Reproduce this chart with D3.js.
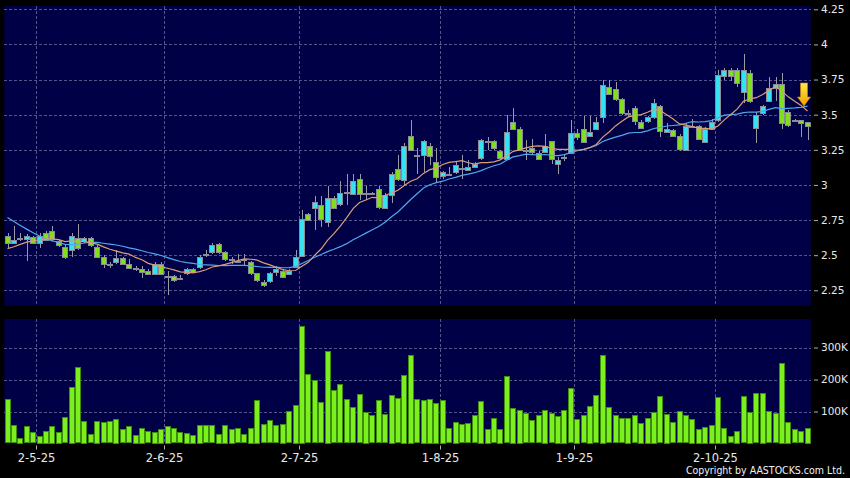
<!DOCTYPE html>
<html lang="en">
<head>
<meta charset="UTF-8">
<title>Price chart</title>
<style>
body { margin: 0; background: #000; }
svg { display: block; }
.axis text { font: 10.5px "DejaVu Sans", sans-serif; fill: #e8e8e8; }
.axis line { stroke: #b0b0b0; }
.axis path { display: none; }
.xaxis text { font-size: 11.5px; }
.grid line { stroke: #55558c; stroke-dasharray: 3,2; stroke-width: 1; shape-rendering: crispEdges; }
.wick { stroke: #9a9aa6; stroke-width: 1; shape-rendering: crispEdges; }
.body { stroke: #8c8c96; stroke-width: 1; shape-rendering: crispEdges; }
.vol { fill: #7cf01c; stroke: #3c8c10; stroke-width: 1; shape-rendering: crispEdges; }
.copy { font: 10.5px "DejaVu Sans Condensed", "DejaVu Sans", sans-serif; fill: #f0f0f0; }
</style>
</head>
<body>
<script src="https://d3js.org/d3.v7.min.js"></script>
<script>
// daily candles (HK$)
var openP  = [2.64,2.59,2.62,2.62,2.63,2.59,2.66,2.67,2.60,2.56, 2.54,2.62,2.60,2.62,2.56,2.49,2.44,2.45,2.48,2.44,
              2.41,2.40,2.39,2.37,2.44,2.35,2.35,2.34,2.37,2.40, 2.42,2.50,2.52,2.58,2.52,2.47,2.46,2.47,2.45,2.37,
              2.31,2.31,2.38,2.39,2.37,2.42,2.50,2.79,2.84,2.86, 2.74,2.91,2.86,2.95,2.94,3.04,2.93,2.94,2.97,2.84,
              2.93,3.11,3.04,3.35,3.21,3.21,3.28,3.16,3.06,3.08, 3.09,3.12,3.11,3.13,3.19,3.31,3.31,3.24,3.19,3.45,
              3.40,3.25,3.26,3.23,3.24,3.31,3.15,3.19,3.23,3.37, 3.40,3.35,3.40,3.48,3.70,3.68,3.61,3.51,3.55,3.45,
              3.45,3.48,3.56,3.38,3.39,3.35,3.25,3.42,3.42,3.31, 3.40,3.46,3.78,3.82,3.82,3.66,3.80,3.41,3.51,3.60,
              3.69,3.72,3.52,3.46,3.46,3.45];
var highP  = [2.66,2.71,2.66,2.65,2.64,2.66,2.67,2.71,2.61,2.57, 2.66,2.72,2.63,2.63,2.57,2.50,2.45,2.54,2.49,2.47,
              2.42,2.42,2.40,2.45,2.45,2.39,2.36,2.36,2.41,2.41, 2.50,2.54,2.59,2.59,2.53,2.49,2.51,2.51,2.46,2.37,
              2.32,2.38,2.42,2.40,2.40,2.54,2.82,2.80,2.92,2.92, 2.99,2.92,3.03,3.08,3.08,3.08,2.99,2.95,2.99,2.94,
              3.09,3.21,3.30,3.46,3.26,3.32,3.30,3.26,3.10,3.13, 3.16,3.21,3.18,3.16,3.33,3.34,3.32,3.25,3.50,3.55,
              3.41,3.32,3.33,3.24,3.36,3.31,3.20,3.22,3.46,3.40, 3.49,3.49,3.48,3.75,3.75,3.73,3.62,3.53,3.56,3.46,
              3.49,3.61,3.57,3.44,3.40,3.36,3.44,3.47,3.43,3.41, 3.47,3.82,3.83,3.83,3.83,3.93,3.82,3.52,3.57,3.77,
              3.77,3.80,3.53,3.47,3.46,3.45];
var lowP   = [2.55,2.58,2.60,2.46,2.58,2.55,2.60,2.60,2.56,2.47, 2.49,2.54,2.59,2.56,2.48,2.41,2.41,2.44,2.44,2.41,
              2.39,2.34,2.36,2.36,2.36,2.22,2.31,2.32,2.36,2.37, 2.40,2.49,2.51,2.51,2.46,2.44,2.45,2.43,2.36,2.31,
              2.27,2.30,2.35,2.34,2.36,2.41,2.49,2.74,2.68,2.70, 2.70,2.83,2.85,2.86,2.93,2.89,2.89,2.93,2.83,2.83,
              2.87,3.03,2.99,3.24,3.08,3.09,3.14,3.02,3.04,3.06, 3.08,3.04,3.10,3.12,3.18,3.25,3.25,3.18,3.18,3.39,
              3.24,3.18,3.22,3.18,3.23,3.15,3.08,3.17,3.22,3.32, 3.30,3.34,3.39,3.44,3.64,3.60,3.50,3.48,3.43,3.40,
              3.44,3.47,3.34,3.37,3.34,3.24,3.24,3.41,3.32,3.30, 3.39,3.45,3.75,3.74,3.70,3.58,3.58,3.30,3.50,3.59,
              3.60,3.40,3.41,3.45,3.34,3.32];
var closeP = [2.59,2.61,2.62,2.64,2.59,2.64,2.61,2.61,2.57,2.49, 2.64,2.55,2.62,2.57,2.49,2.44,2.44,2.48,2.44,2.41,
              2.40,2.38,2.37,2.44,2.37,2.34,2.32,2.34,2.40,2.38, 2.49,2.51,2.57,2.52,2.47,2.47,2.46,2.47,2.37,2.32,
              2.29,2.37,2.40,2.35,2.39,2.49,2.76,2.75,2.88,2.76, 2.91,2.84,2.94,2.95,3.03,2.93,2.94,2.94,2.84,2.93,
              3.08,3.04,3.28,3.25,3.21,3.31,3.21,3.05,3.09,3.08, 3.14,3.11,3.13,3.15,3.32,3.31,3.26,3.19,3.38,3.40,
              3.25,3.25,3.23,3.19,3.28,3.18,3.18,3.20,3.37,3.34, 3.31,3.38,3.45,3.71,3.65,3.61,3.51,3.51,3.46,3.41,
              3.48,3.58,3.38,3.40,3.35,3.26,3.42,3.42,3.33,3.40, 3.45,3.78,3.82,3.78,3.73,3.82,3.60,3.50,3.56,3.69,
              3.72,3.44,3.43,3.46,3.44,3.42];
// closes of the 19 sessions before the window, so the averages start where the picture does
var priorClose = [3.20,3.18,3.15,3.12,3.10,3.00,2.90,2.80,2.75,2.70,2.48,2.45,2.48,2.50,2.55,2.57,2.60,2.62,2.63];
// daily volume, thousands of shares
var volK = [139,57,18,54,35,25,40,56,36,82, 178,239,71,29,71,66,70,77,44,54,
            28,50,39,36,46,56,48,35,33,27, 59,57,57,31,59,46,47,29,49,136,
            60,73,57,62,101,121,368,216,197,129, 290,166,185,138,114,154,99,89,135,91,
            153,142,215,278,138,136,140,128,136,48, 68,60,64,89,134,46,79,46,210,111,
            106,95,73,88,106,95,86,106,172,78, 88,118,151,278,114,88,79,80,88,65,
            80,99,147,93,67,101,89,78,46,52, 59,146,50,22,40,147,99,157,159,101,
            94,252,68,44,39,49];

var tickLabels = ["2-5-25","2-6-25","2-7-25","1-8-25","1-9-25","2-10-25"];
var tickIndex  = [5,25,46,68,89,111];
var priceTicks = [2.25,2.5,2.75,3,3.25,3.5,3.75,4,4.25];
var volTicks   = [100,200,300];

var width = 850, height = 478;
var left = 4.3, right = 810.7;
var pTop = 6, pBottom = 306, vTop = 319, vBottom = 443.5;

var svg = d3.select("body").append("svg")
    .attr("width", width).attr("height", height)
    .style("background", "#000");

var n = closeP.length;
var x = d3.scaleBand().domain(d3.range(n)).range([left, right])
    .paddingInner(0.12).paddingOuter(0.06);
var cx = function(i) { return x(i) + x.bandwidth() / 2; };
var gridX = function(i) { return Math.round(x(i) - x.step() * 0.06) + 0.5; };

var y = d3.scaleLinear().domain([2.25, 4.25]).range([290.3, 9.3]);
var yv = d3.scaleLinear().domain([0, 100]).range([vBottom, vBottom - 32]);

// moving averages
var allClose = priorClose.concat(closeP);
function sma(k) {
  return closeP.map(function(c, i) {
    var j = i + priorClose.length;
    return d3.mean(allClose.slice(j - k + 1, j + 1));
  });
}
var ma10 = sma(10), ma20 = sma(20);

// panels
svg.append("rect").attr("x", left).attr("y", pTop).attr("width", right - left).attr("height", pBottom - pTop).attr("fill", "#000046");
svg.append("rect").attr("x", left).attr("y", vTop).attr("width", right - left).attr("height", vBottom - vTop).attr("fill", "#000046");

svg.append("clipPath").attr("id", "pclip").append("rect")
    .attr("x", left).attr("y", pTop).attr("width", right - left).attr("height", pBottom - pTop);

// grids
var grid = svg.append("g").attr("class", "grid");
grid.selectAll(".hp").data(priceTicks).enter().append("line")
    .attr("x1", left).attr("x2", right)
    .attr("y1", function(d) { return Math.round(y(d)) + 0.5; })
    .attr("y2", function(d) { return Math.round(y(d)) + 0.5; });
grid.selectAll(".hv").data(volTicks).enter().append("line")
    .attr("x1", left).attr("x2", right)
    .attr("y1", function(d) { return Math.round(yv(d)) + 0.5; })
    .attr("y2", function(d) { return Math.round(yv(d)) + 0.5; });
grid.selectAll(".vp").data(tickIndex).enter().append("line")
    .attr("x1", gridX).attr("x2", gridX).attr("y1", pTop).attr("y2", pBottom);
grid.selectAll(".vv").data(tickIndex).enter().append("line")
    .attr("x1", gridX).attr("x2", gridX).attr("y1", vTop).attr("y2", vBottom);

// candles
var upCol = "#34e2f2", downCol = "#80e01e", flatCol = "#a0a0a8";
var candle = svg.append("g").attr("clip-path", "url(#pclip)")
  .selectAll("g").data(d3.range(n)).enter().append("g");
candle.append("line").attr("class", "wick")
    .attr("x1", function(i) { return Math.round(cx(i)) + 0.5; })
    .attr("x2", function(i) { return Math.round(cx(i)) + 0.5; })
    .attr("y1", function(i) { return y(highP[i]); })
    .attr("y2", function(i) { return y(lowP[i]); });
candle.append("rect").attr("class", "body")
    .attr("x", function(i) { return Math.round(x(i)) + 0.5; })
    .attr("width", Math.round(x.bandwidth()) - 1)
    .attr("y", function(i) { return Math.round(y(Math.max(openP[i], closeP[i]))) + 0.5; })
    .attr("height", function(i) { return Math.max(1, Math.round(Math.abs(y(openP[i]) - y(closeP[i])))); })
    .attr("fill", function(i) {
      return closeP[i] > openP[i] ? upCol : (closeP[i] < openP[i] ? downCol : flatCol);
    });

// moving average lines
var line = function(vals) {
  return d3.line().x(function(d, i) { return cx(i); }).y(function(d) { return y(d); })(vals);
};
var maG = svg.append("g").attr("clip-path", "url(#pclip)").attr("fill", "none");
maG.append("path").attr("d", line(ma20)).attr("stroke", "#4ea8ec").attr("stroke-width", 1.2);
maG.append("path").attr("d", line(ma10)).attr("stroke", "#dc9c74").attr("stroke-width", 1.2);

// signal arrow over the last session
var grad = svg.append("defs").append("linearGradient").attr("id", "arr")
    .attr("x1", 0).attr("x2", 0).attr("y1", 0).attr("y2", 1);
grad.append("stop").attr("offset", "0%").attr("stop-color", "#ffe84a");
grad.append("stop").attr("offset", "100%").attr("stop-color", "#f5a000");
svg.append("path")
    .attr("transform", "translate(" + (cx(n - 1) - 3.5) + "," + (y(ma10[n - 1]) - 5) + ")")
    .attr("d", "M-3.5,-23L3.5,-23L3.5,-9L6.5,-9L0,0L-6.5,-9L-3.5,-9Z")
    .attr("fill", "url(#arr)").attr("stroke", "#c98a00").attr("stroke-width", 0.6);

// volume bars
svg.append("g").selectAll("rect").data(volK).enter().append("rect")
    .attr("class", "vol")
    .attr("x", function(d, i) { return Math.round(x(i)) + 0.5; })
    .attr("width", Math.round(x.bandwidth()) - 1)
    .attr("y", function(d) { return Math.round(yv(d)) + 0.5; })
    .attr("height", function(d) { return Math.round(vBottom - yv(d)) - 1; });

// axes
svg.append("g").attr("class", "axis")
    .attr("transform", "translate(814,0)")
    .call(d3.axisRight(y).tickValues(priceTicks).tickSize(4).tickPadding(3).tickFormat(function(d) { return d; }));
svg.append("g").attr("class", "axis")
    .attr("transform", "translate(814,0)")
    .call(d3.axisRight(yv).tickValues(volTicks).tickSize(4).tickPadding(3).tickFormat(function(d) { return d + "K"; }));

var xa = svg.append("g").attr("class", "axis xaxis");
xa.selectAll("line").data(tickIndex).enter().append("line")
    .attr("x1", gridX).attr("x2", gridX).attr("y1", 445.5).attr("y2", 449.5);
xa.selectAll("text").data(tickIndex).enter().append("text")
    .attr("x", gridX).attr("y", 462).attr("text-anchor", "middle")
    .text(function(d, k) { return tickLabels[k]; });

svg.append("text").attr("class", "copy")
    .attr("x", 845).attr("y", 474).attr("text-anchor", "end")
    .text("Copyright by AASTOCKS.com Ltd.");
</script>
</body>
</html>
